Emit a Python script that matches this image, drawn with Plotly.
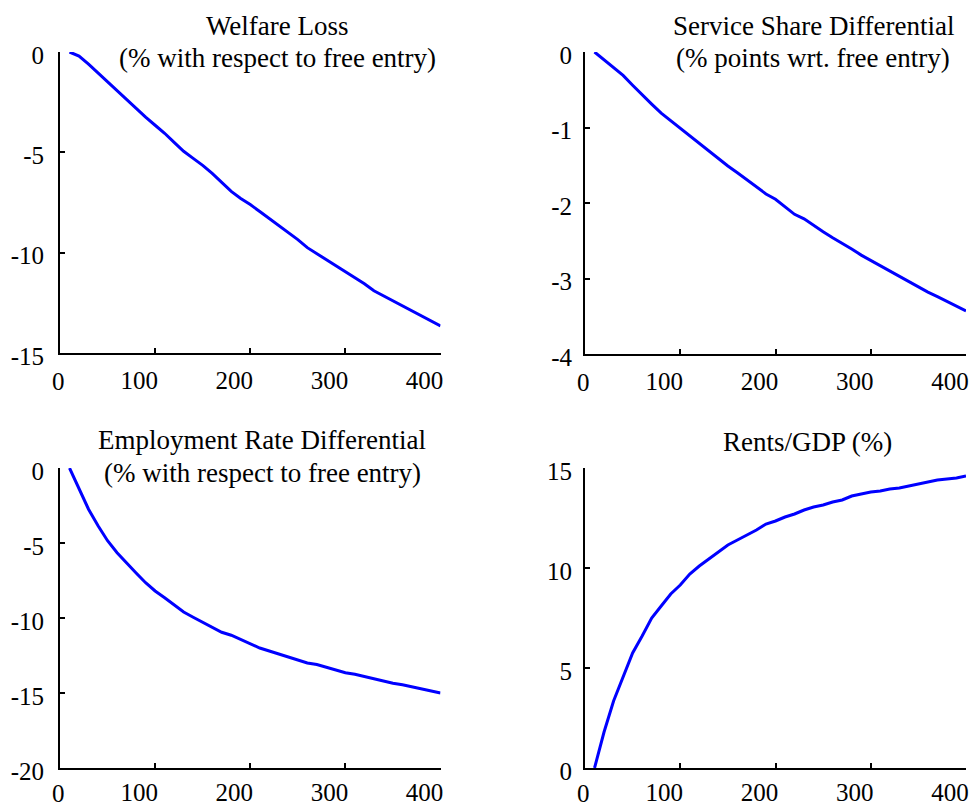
import plotly.graph_objects as go

W, H = 973, 807

x_vals = [10, 20, 30, 40, 50, 60, 70, 80, 90, 100, 110, 120, 130, 140, 150, 160, 170, 180, 190, 200,
          210, 220, 230, 240, 250, 260, 270, 280, 290, 300, 310, 320, 330, 340, 350, 360, 370, 380, 390, 400]

welfare_loss = [0, -0.2, -0.6, -1.05, -1.45, -1.9, -2.35, -2.8, -3.25, -3.65, -4.05, -4.5, -4.95, -5.3,
                -5.65, -6.05, -6.5, -6.95, -7.3, -7.6, -7.95, -8.3, -8.65, -9.0, -9.35, -9.75, -10.05,
                -10.35, -10.65, -10.95, -11.25, -11.55, -11.9, -12.15, -12.4, -12.65, -12.9, -13.15,
                -13.4, -13.65]

service_share = [0, -0.1, -0.2, -0.31, -0.44, -0.57, -0.69, -0.81, -0.91, -1.01, -1.12, -1.22, -1.32,
                 -1.42, -1.51, -1.6, -1.69, -1.78, -1.88, -1.95, -2.05, -2.15, -2.21, -2.3, -2.38,
                 -2.46, -2.53, -2.61, -2.69, -2.76, -2.83, -2.91, -2.98, -3.05, -3.12, -3.18, -3.24,
                 -3.3, -3.37, -3.43]

employment = [0, -1.4, -2.75, -3.85, -4.85, -5.65, -6.35, -7.0, -7.65, -8.2, -8.65, -9.1, -9.6, -9.95,
              -10.3, -10.65, -10.95, -11.15, -11.45, -11.75, -12.0, -12.2, -12.4, -12.55, -12.75, -13.0,
              -13.1, -13.3, -13.45, -13.65, -13.75, -13.9, -14.1, -14.25, -14.35, -14.45, -14.6, -14.7,
              -14.85, -15.0]

rents_gdp = [0, 1.8, 3.35, 4.6, 5.75, 6.6, 7.5, 8.1, 8.7, 9.15, 9.7, 10.1, 10.45, 10.8, 11.15, 11.4,
             11.65, 11.9, 12.2, 12.35, 12.55, 12.7, 12.9, 13.05, 13.15, 13.3, 13.4, 13.6, 13.7, 13.8,
             13.85, 13.95, 14.0, 14.1, 14.2, 14.3, 14.4, 14.45, 14.5, 14.6]

x_ticks = [0, 100, 200, 300, 400]
x_ticklabels = ["", "100", "200", "300", "400"]
x_zero_label = "0"
yticks_welfare = [0, -5, -10, -15]
yticks_service = [0, -1, -2, -3, -4]
yticks_employment = [0, -5, -10, -15, -20]
yticks_rents = [0, 5, 10, 15]

titles = [
    (["Welfare Loss", "(% with respect to free entry)"], 277, [26, 58]),
    (["Service Share Differential", "(% points wrt. free entry)"], 813, [26, 58]),
    (["Employment Rate Differential", "(% with respect to free entry)"], 262, [440, 473]),
    (["Rents/GDP (%)"], 807, [442]),
]

FONT = "Liberation Serif"
BLUE = "#0000FF"

def px_x(p):
    return p / W

def px_y(p):
    return 1 - p / H

panels = [
    dict(y=welfare_loss, yticks=yticks_welfare, yr=[-15, 0], xd=[60, 440.5], yd=[52, 353], ys=9, xs=4, zs=-28),
    dict(y=service_share, yticks=yticks_service, yr=[-4, 0], xd=[585, 966], yd=[52, 354], ys=6, xs=4, zs=-28),
    dict(y=employment, yticks=yticks_employment, yr=[-20, 0], xd=[60, 440.5], yd=[468, 768], ys=9, xs=1, zs=-25),
    dict(y=rents_gdp, yticks=yticks_rents, yr=[0, 15], xd=[585, 966], yd=[468, 768], ys=6, xs=1, zs=-25),
]

fig = go.Figure()
layout = {}
annotations = []
tickfont = dict(family=FONT, size=25, color="black")
for i, p in enumerate(panels, start=1):
    xa = "x" if i == 1 else f"x{i}"
    ya = "y" if i == 1 else f"y{i}"
    fig.add_trace(go.Scatter(x=x_vals, y=p["y"], mode="lines", xaxis=xa, yaxis=ya,
                             line=dict(color=BLUE, width=3), showlegend=False))
    common = dict(showline=True, linecolor="black", linewidth=2, ticks="inside", ticklen=5,
                  tickwidth=1.5, tickcolor="black", showgrid=False, zeroline=False,
                  automargin=False, tickfont=tickfont)
    layout["xaxis" if i == 1 else f"xaxis{i}"] = dict(
        domain=[px_x(p["xd"][0]), px_x(p["xd"][1])], range=[0, 400], tickvals=x_ticks,
        ticktext=x_ticklabels, anchor=ya, ticklabelstandoff=p["xs"], ticklabelshift=-16, **common)
    layout["yaxis" if i == 1 else f"yaxis{i}"] = dict(
        domain=[px_y(p["yd"][1]), px_y(p["yd"][0])], range=p["yr"], tickvals=p["yticks"],
        ticktext=[str(t) for t in p["yticks"]], anchor=xa, ticklabelstandoff=p["ys"],
        ticklabelshift=3, **common)
    # the "0" x label sits centred on its tick (the others are offset left)
    annotations.append(dict(text=x_zero_label, x=x_ticks[0], y=p["yr"][0], xref=xa, yref=ya,
                            xanchor="center", yanchor="middle", xshift=-2, yshift=p["zs"],
                            showarrow=False, font=tickfont))

for lines, cx, ys in titles:
    for txt, yy in zip(lines, ys):
        annotations.append(dict(text=txt, x=px_x(cx), y=px_y(yy), xref="paper", yref="paper",
                                xanchor="center", yanchor="middle", showarrow=False,
                                font=dict(family=FONT, size=27, color="black")))

fig.update_layout(width=W, height=H, margin=dict(l=0, r=0, t=0, b=0),
                  plot_bgcolor="white", paper_bgcolor="white",
                  annotations=annotations, **layout)

fig.write_html("out.html", config={"displayModeBar": False},
               post_script="document.body.style.margin='0';document.body.style.overflow='hidden';")
